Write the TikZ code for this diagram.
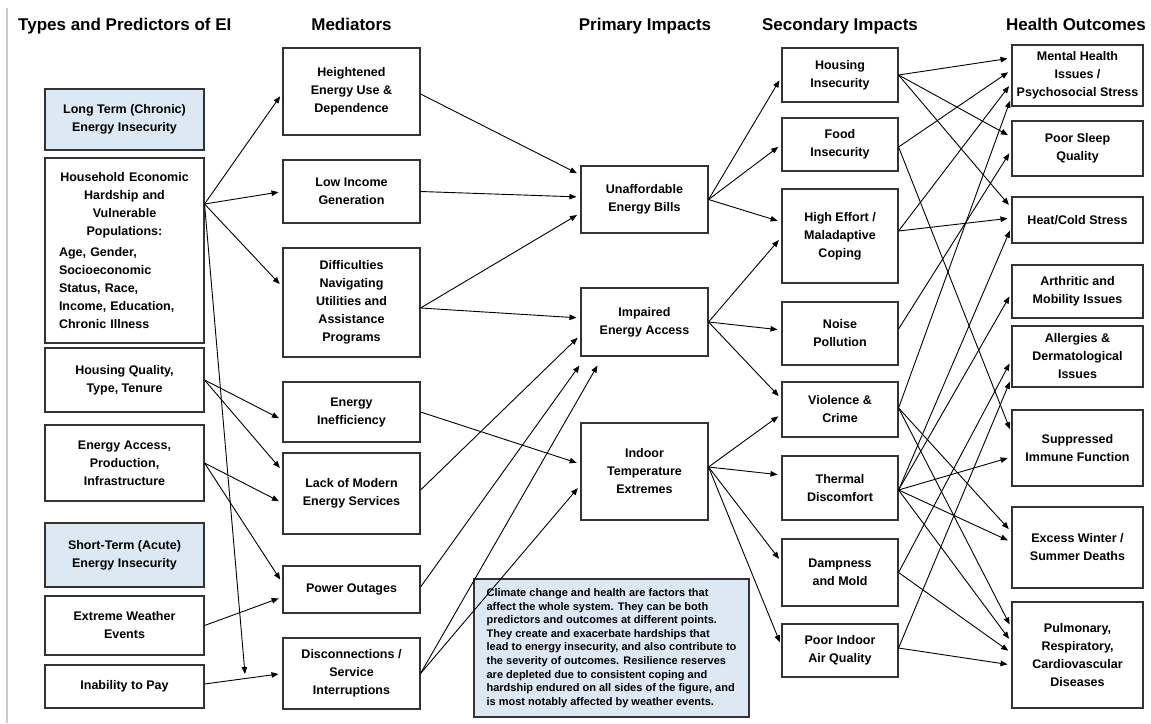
\documentclass[tikz,border=0pt]{standalone}
\usepackage{fontspec}
\setmainfont{Liberation Sans}
\usetikzlibrary{arrows.meta}
\definecolor{lblue}{HTML}{DDE8F5}
\definecolor{boxc}{HTML}{333333}
\definecolor{edgegray}{HTML}{CCCCCC}
\begin{document}
\begin{tikzpicture}[x=1pt,y=-1pt,
  box/.style={draw=boxc, line width=1.1pt, fill=white, align=center, inner sep=1pt, font=\fontsize{12.5pt}{18pt}\selectfont\bfseries},
  bluebox/.style={box, fill=lblue},
  hdr/.style={anchor=base, font=\fontsize{17pt}{20pt}\selectfont\bfseries, inner sep=0pt},
  conn/.style={-{Triangle[length=7pt,width=5.5pt]}, line width=0.9pt, shorten >=4pt},
  conn0/.style={-{Triangle[length=7pt,width=5.5pt]}, line width=0.9pt}
]
\useasboundingbox (0,0) rectangle (1151,723);
\draw[edgegray, line width=2pt] (7,8) -- (7,723);

% headers
\node[hdr, anchor=base west] (h1) at (18,30) {Types and Predictors of EI};
\node[hdr] (h2) at (351.5,30) {Mediators};
\node[hdr] (h3) at (645,30) {Primary Impacts};
\node[hdr] (h4) at (840,30) {Secondary Impacts};
\node[hdr] (h5) at (1076,30) {Health Outcomes};

% column 1
\node[bluebox, minimum width=159pt, minimum height=61pt] (lt) at (124.5,119.5) {Long Term (Chronic)\\Energy Insecurity};
\node[box, minimum width=159pt, minimum height=185pt, text width=131pt, align=left] (hh) at (124.5,250.5)
  {\setlength{\parindent}{0pt}{\centering Household Economic\\Hardship and\\Vulnerable\\Populations:\par}\vspace{3pt}Age, Gender,\\Socioeconomic\\Status, Race,\\Income, Education,\\Chronic Illness};
\node[box, minimum width=159pt, minimum height=64pt] (hq) at (124.5,380) {Housing Quality,\\Type, Tenure};
\node[box, minimum width=159pt, minimum height=76pt] (ea) at (124.5,463) {Energy Access,\\Production,\\Infrastructure};
\node[bluebox, minimum width=159pt, minimum height=64pt] (st) at (124.5,555) {Short-Term (Acute)\\Energy Insecurity};
\node[box, minimum width=159pt, minimum height=59pt] (ew) at (124.5,625.5) {Extreme Weather\\Events};
\node[box, minimum width=159pt, minimum height=43pt] (ip) at (124.5,686.5) {Inability to Pay};

% column 2
\node[box, minimum width=137pt, minimum height=87pt] (heu) at (351.5,91.5) {Heightened\\Energy Use \&\\Dependence};
\node[box, minimum width=137pt, minimum height=63pt] (lig) at (351.5,191.5) {Low Income\\Generation};
\node[box, minimum width=137pt, minimum height=109pt] (dnu) at (351.5,302.5) {Difficulties\\Navigating\\Utilities and\\Assistance\\Programs};
\node[box, minimum width=137pt, minimum height=60pt] (ein) at (351.5,412) {Energy\\Inefficiency};
\node[box, minimum width=137pt, minimum height=81pt] (lmes) at (351.5,493.5) {Lack of Modern\\Energy Services};
\node[box, minimum width=137pt, minimum height=47pt] (po) at (351.5,589.5) {Power Outages};
\node[box, minimum width=137pt, minimum height=71pt] (dsi) at (351.5,673.5) {Disconnections /\\Service\\Interruptions};

% column 3
\node[box, minimum width=127pt, minimum height=67pt] (ueb) at (644.5,199.5) {Unaffordable\\Energy Bills};
\node[box, minimum width=127pt, minimum height=68pt] (iea) at (644.5,322) {Impaired\\Energy Access};
\node[box, minimum width=127pt, minimum height=97pt] (ite) at (644.5,471.5) {Indoor\\Temperature\\Extremes};

% climate note
\node[bluebox, minimum width=275pt, minimum height=138pt, align=left, font=\fontsize{11pt}{13.6pt}\selectfont\bfseries] (cc) at (611.5,648)
  {Climate change and health are factors that\\affect the whole system. They can be both\\predictors and outcomes at different points.\\They create and exacerbate hardships that\\lead to energy insecurity, and also contribute to\\the severity of outcomes. Resilience reserves\\are depleted due to consistent coping and\\hardship endured on all sides of the figure, and\\is most notably affected by weather events.};

% column 4
\node[box, minimum width=116pt, minimum height=54pt] (hi) at (840,75) {Housing\\Insecurity};
\node[box, minimum width=116pt, minimum height=53pt] (fi) at (840,144.5) {Food\\Insecurity};
\node[box, minimum width=116pt, minimum height=94pt] (he) at (840,236) {High Effort /\\Maladaptive\\Coping};
\node[box, minimum width=116pt, minimum height=63pt] (np) at (840,333.5) {Noise\\Pollution};
\node[box, minimum width=116pt, minimum height=55pt] (vc) at (840,409.5) {Violence \&\\Crime};
\node[box, minimum width=116pt, minimum height=64pt] (td) at (840,488) {Thermal\\Discomfort};
\node[box, minimum width=116pt, minimum height=67pt] (dm) at (840,572.5) {Dampness\\and Mold};
\node[box, minimum width=116pt, minimum height=53pt] (pia) at (840,650.5) {Poor Indoor\\Air Quality};

% column 5
\node[box, minimum width=131pt, minimum height=61pt] (mh) at (1077.5,75.5) {Mental Health\\Issues /\\Psychosocial Stress};
\node[box, minimum width=131pt, minimum height=55pt] (ps) at (1077.5,148.5) {Poor Sleep\\Quality};
\node[box, minimum width=131pt, minimum height=46pt] (hc) at (1077.5,220) {Heat/Cold Stress};
\node[box, minimum width=131pt, minimum height=53pt] (am) at (1077.5,291.5) {Arthritic and\\Mobility Issues};
\node[box, minimum width=131pt, minimum height=61pt] (ad) at (1077.5,356.5) {Allergies \&\\Dermatological\\Issues};
\node[box, minimum width=131pt, minimum height=76pt] (si) at (1077.5,448) {Suppressed\\Immune Function};
\node[box, minimum width=131pt, minimum height=81pt] (xw) at (1077.5,547.5) {Excess Winter /\\Summer Deaths};
\node[box, minimum width=131pt, minimum height=106pt] (pu) at (1077.5,655) {Pulmonary,\\Respiratory,\\Cardiovascular\\Diseases};

% predictors -> mediators
\coordinate (join) at (245,674);
\draw[conn] ([yshift=46.5pt]hh.east) -- ([yshift=-1.5pt]heu.west);
\draw[conn] ([yshift=46.5pt]hh.east) -- (lig.west);
\draw[conn] ([yshift=46.5pt]hh.east) -- ([yshift=15.5pt]dnu.west);
\draw[conn0] ([yshift=46.5pt]hh.east) -- (join);
\draw[conn] (hq.east) -- ([yshift=-8pt]ein.west);
\draw[conn] (hq.east) -- ([yshift=22.5pt]lmes.west);
\draw[conn] (ea.east) -- ([yshift=-9.5pt]lmes.west);
\draw[conn] (ea.east) -- ([yshift=6.5pt]po.west);
\draw[conn] (ew.east) -- ([yshift=-7.5pt]po.west);
\draw[conn] ([yshift=2.5pt]ip.east) -- (dsi.west);

% mediators -> primary
\draw[conn] ([yshift=-2.5pt]heu.east) -- ([yshift=24.5pt]ueb.west);
\draw[conn] (lig.east) -- ([yshift=2.5pt]ueb.west);
\draw[conn] ([yshift=-5.5pt]dnu.east) -- ([yshift=-13.5pt]ueb.west);
\draw[conn] ([yshift=-5.5pt]dnu.east) -- ([yshift=4pt]iea.west);
\draw[conn] ([yshift=3.5pt]lmes.east) -- ([yshift=-13pt]iea.west);
\draw[conn0] ([yshift=2.5pt]po.east) -- ([xshift=-1pt,yshift=-9pt]iea.south west);
\draw[conn0] (dsi.east) -- ([xshift=17pt,yshift=-9pt]iea.south west);
\draw[conn] (ein.east) -- ([yshift=7.5pt]ite.west);
\draw[conn] (dsi.east) -- ([yshift=-13.5pt]ite.west);

% primary -> secondary
\draw[conn] (ueb.east) -- ([yshift=-2pt]hi.west);
\draw[conn] (ueb.east) -- (fi.west);
\draw[conn] (ueb.east) -- ([yshift=14pt]he.west);
\draw[conn] (iea.east) -- ([yshift=-1pt]he.west);
\draw[conn] (iea.east) -- ([yshift=3.5pt]np.west);
\draw[conn] (iea.east) -- ([yshift=10.5pt]vc.west);
\draw[conn] ([yshift=4.5pt]ite.east) -- ([yshift=-4.5pt]vc.west);
\draw[conn] ([yshift=4.5pt]ite.east) -- ([yshift=13pt]td.west);
\draw[conn] ([yshift=4.5pt]ite.east) -- ([yshift=10.5pt]dm.west);
\draw[conn] ([yshift=4.5pt]ite.east) -- ([yshift=4.5pt]pia.west);

% secondary -> health
\draw[conn] (hi.east) -- ([yshift=17.5pt]mh.west);
\draw[conn] (hi.east) -- ([yshift=11.5pt]ps.west);
\draw[conn] (hi.east) -- ([yshift=12pt]hc.west);
\draw[conn] ([yshift=-2.5pt]fi.east) -- ([yshift=5.5pt]mh.west);
\draw[conn] ([yshift=-2.5pt]fi.east) -- ([yshift=15pt]si.west);
\draw[conn] ([yshift=5pt]he.east) -- ([yshift=-7.5pt]mh.west);
\draw[conn] ([yshift=5pt]he.east) -- ([yshift=2pt]hc.west);
\draw[conn] ([yshift=4.5pt]np.east) -- ([yshift=-1.5pt]ps.west);
\draw[conn] ([yshift=1.5pt]vc.east) -- ([yshift=-21.5pt]mh.west);
\draw[conn] ([yshift=1.5pt]vc.east) -- ([yshift=15.5pt]xw.west);
\draw[conn] ([yshift=1.5pt]vc.east) -- ([yshift=27pt]pu.west);
\draw[conn] ([yshift=-2pt]td.east) -- ([yshift=-7pt]hc.west);
\draw[conn] ([yshift=-2pt]td.east) -- ([yshift=-1.5pt]am.west);
\draw[conn] ([yshift=-2pt]td.east) -- ([yshift=-9pt]si.west);
\draw[conn] ([yshift=-2pt]td.east) -- ([yshift=5.5pt]xw.west);
\draw[conn] ([yshift=-2pt]td.east) -- ([yshift=13pt]pu.west);
\draw[conn] (dm.east) -- ([yshift=-3.5pt]ad.west);
\draw[conn] (dm.east) -- ([yshift=2pt]pu.west);
\draw[conn] ([yshift=2.5pt]pia.east) -- ([yshift=-21.5pt]ad.west);
\draw[conn] ([yshift=2.5pt]pia.east) -- ([yshift=-10pt]pu.west);
\end{tikzpicture}
\end{document}
